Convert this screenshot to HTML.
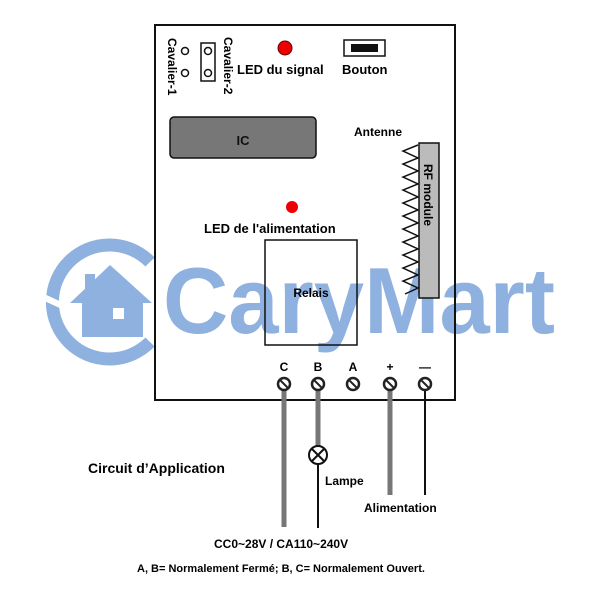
<!DOCTYPE html>
<html><head><style>body{margin:0;background:#fff}svg{display:block}</style></head><body>
<svg width="600" height="600" xmlns="http://www.w3.org/2000/svg" font-family="Liberation Sans, sans-serif" font-weight="bold">
<!-- logo -->
<g fill="#8fb1e0">
<path d="M150,262 A57,57 0 1 0 150,342" fill="none" stroke="#8fb1e0" stroke-width="13"/>
<path d="M40,292 L68,305 L64,310 L40,299 Z" fill="#fff"/>
<polygon points="70,303 110,265 152,303 143,303 143,337 82,337 82,303"/>
<rect x="85" y="274" width="10" height="18"/>
<rect x="113" y="308" width="11" height="11" fill="#fff"/>
<text x="163" y="333" font-size="94" font-weight="bold" fill="#8fb1e0" textLength="392" lengthAdjust="spacingAndGlyphs">CaryMart</text>
</g>
<rect x="155" y="25" width="300" height="375" fill="none" stroke="#111" stroke-width="2"/>
<!-- jumpers -->
<circle cx="185" cy="51" r="3.5" fill="none" stroke="#111" stroke-width="1.5"/>
<circle cx="185" cy="73" r="3.5" fill="none" stroke="#111" stroke-width="1.5"/>
<rect x="201" y="43" width="14" height="38" fill="none" stroke="#111" stroke-width="1.5"/>
<circle cx="208" cy="51" r="3.5" fill="none" stroke="#111" stroke-width="1.5"/>
<circle cx="208" cy="73" r="3.5" fill="none" stroke="#111" stroke-width="1.5"/>
<text transform="translate(168,38) rotate(90)" font-size="12">Cavalier-1</text>
<text transform="translate(224,37) rotate(90)" font-size="12">Cavalier-2</text>
<circle cx="285" cy="48" r="7" fill="#e00" stroke="#600" stroke-width="1"/>
<text x="237" y="74" font-size="13">LED du signal</text>
<rect x="344" y="40" width="41" height="16" fill="#fff" stroke="#111" stroke-width="1.5"/>
<rect x="351" y="44" width="27" height="8" fill="#111"/>
<text x="342" y="74" font-size="13">Bouton</text>
<rect x="170" y="117" width="146" height="41" rx="4" fill="#777" stroke="#111" stroke-width="1.5"/>
<text x="243" y="145" font-size="13" text-anchor="middle" fill="#111">IC</text>
<text x="354" y="136" font-size="12">Antenne</text>
<polyline points="418,145 403,151 418,158 403,164 418,171 403,177 418,184 403,190 418,197 403,203 418,210 403,216 418,223 403,229 418,236 403,242 418,249 403,255 418,262 403,268 418,275 403,281 418,288 405,294" fill="none" stroke="#111" stroke-width="1.5"/>
<rect x="419" y="143" width="20" height="155" fill="#bbb" stroke="#111" stroke-width="1.5"/>
<text transform="translate(424,164) rotate(90)" font-size="12">RF module</text>
<circle cx="292" cy="207" r="6" fill="#e00"/>
<text x="204" y="233" font-size="13">LED de l'alimentation</text>
<rect x="265" y="240" width="92" height="105" fill="none" stroke="#111" stroke-width="1.5"/>
<text x="311" y="297" font-size="12" text-anchor="middle">Relais</text>
<g font-size="12" text-anchor="middle">
<text x="284" y="371">C</text><text x="318" y="371">B</text><text x="353" y="371">A</text><text x="390" y="371">+</text><text x="425" y="371">—</text>
</g>
<line x1="284" y1="385" x2="284" y2="527" stroke="#777" stroke-width="5"/>
<line x1="318" y1="385" x2="318" y2="446" stroke="#777" stroke-width="5"/>
<line x1="318" y1="464" x2="318" y2="528" stroke="#111" stroke-width="2"/>
<line x1="390" y1="385" x2="390" y2="495" stroke="#777" stroke-width="5"/>
<line x1="425" y1="385" x2="425" y2="495" stroke="#111" stroke-width="2"/>
<g fill="#fff" stroke="#222" stroke-width="2.5">
<circle cx="284" cy="384" r="6"/><circle cx="318" cy="384" r="6"/><circle cx="353" cy="384" r="6"/><circle cx="390" cy="384" r="6"/><circle cx="425" cy="384" r="6"/>
</g>
<g stroke="#222" stroke-width="2">
<line x1="280" y1="380" x2="288" y2="388"/><line x1="314" y1="380" x2="322" y2="388"/><line x1="349" y1="380" x2="357" y2="388"/><line x1="386" y1="380" x2="394" y2="388"/><line x1="421" y1="380" x2="429" y2="388"/>
</g>
<circle cx="318" cy="455" r="9" fill="#fff" stroke="#111" stroke-width="2"/>
<line x1="312" y1="449" x2="324" y2="461" stroke="#111" stroke-width="2"/>
<line x1="324" y1="449" x2="312" y2="461" stroke="#111" stroke-width="2"/>
<text x="88" y="473" font-size="14">Circuit d’Application</text>
<text x="325" y="485" font-size="12">Lampe</text>
<text x="364" y="512" font-size="12">Alimentation</text>
<text x="214" y="548" font-size="12">CC0~28V / CA110~240V</text>
<text x="137" y="572" font-size="11">A, B= Normalement Fermé; B, C= Normalement Ouvert.</text>
</svg>
</body></html>
